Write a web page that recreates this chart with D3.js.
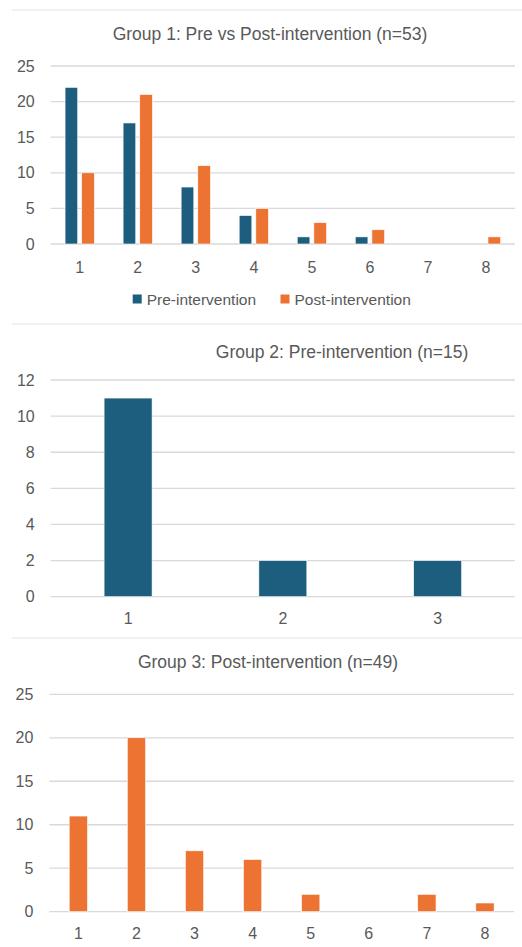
<!DOCTYPE html>
<html>
<head>
<meta charset="utf-8">
<script src="https://cdn.jsdelivr.net/npm/d3@7"></script>
<style>
  html, body { margin: 0; padding: 0; background: #fff; }
  svg { display: block; }
  text { font-family: "Liberation Sans", Arial, sans-serif; fill: #595959; }
</style>
</head>
<body>
<svg id="chart" width="522" height="947"></svg>
<script>
// Score categories (1–8) and counts per group
const categories8 = ["1", "2", "3", "4", "5", "6", "7", "8"];
const categories3 = ["1", "2", "3"];
const seriesNames = ["Pre-intervention", "Post-intervention"];

const group1Pre  = [22, 17, 8, 4, 1, 1, 0, 0];
const group1Post = [10, 21, 11, 5, 3, 2, 0, 1];
const group2Pre  = [11, 2, 2];
const group3Post = [11, 20, 7, 6, 2, 0, 2, 1];

const ticks1 = [0, 5, 10, 15, 20, 25];
const ticks2 = [0, 2, 4, 6, 8, 10, 12];
const ticks3 = [0, 5, 10, 15, 20, 25];

const titles = [
  "Group 1: Pre vs Post-intervention (n=53)",
  "Group 2: Pre-intervention (n=15)",
  "Group 3: Post-intervention (n=49)"
];

const colors = { pre: "#1d5d7e", post: "#ec7332" };
const gridColor = "#d9d9d9";

const svg = d3.select("#chart");

// Panel separators
[10, 324, 638].forEach(y => {
  svg.append("line")
    .attr("x1", 12).attr("x2", 522)
    .attr("y1", y).attr("y2", y)
    .attr("stroke", "#e3e3e3").attr("stroke-width", 1.2);
});

function drawAxes(g, x, y, ticks, left, right, labelY) {
  // horizontal gridlines
  g.selectAll("line.grid").data(ticks).join("line")
    .attr("class", "grid")
    .attr("x1", left).attr("x2", right)
    .attr("y1", d => y(d)).attr("y2", d => y(d))
    .attr("stroke", gridColor).attr("stroke-width", 1.3);
  // y tick labels
  g.selectAll("text.ytick").data(ticks).join("text")
    .attr("class", "ytick")
    .attr("x", left - 16)
    .attr("y", d => y(d) + 5.5)
    .attr("text-anchor", "end")
    .style("font-size", "16px")
    .text(d => d);
  // x category labels
  g.selectAll("text.xtick").data(x.domain()).join("text")
    .attr("class", "xtick")
    .attr("x", d => x(d) + x.bandwidth() / 2)
    .attr("y", labelY)
    .attr("text-anchor", "middle")
    .style("font-size", "16px")
    .text(d => d);
}

function title(text, cx, baseline) {
  svg.append("text")
    .attr("x", cx).attr("y", baseline)
    .attr("text-anchor", "middle")
    .style("font-size", "17.5px")
    .text(text);
}

// ---- Panel 1: grouped bars ----
{
  const g = svg.append("g");
  const left = 50.7, right = 515;
  const x = d3.scaleBand().domain(categories8).range([left, right]).padding(0);
  const y = d3.scaleLinear().domain([0, 25]).range([244, 66]);
  drawAxes(g, x, y, ticks1, left, right, 272.5);
  const groupW = x.bandwidth() * 0.505;
  const xs = d3.scaleBand().domain(seriesNames).range([0, groupW]).paddingInner(0.24);
  const rows = categories8.map((c, i) => ({ c, vals: [group1Pre[i], group1Post[i]] }));
  const grp = g.selectAll("g.cat").data(rows).join("g")
    .attr("transform", d => `translate(${x(d.c) + (x.bandwidth() - groupW) / 2},0)`);
  grp.selectAll("rect").data(d => d.vals.map((v, k) => ({ v, s: seriesNames[k] })))
    .join("rect")
    .attr("x", d => xs(d.s))
    .attr("width", xs.bandwidth())
    .attr("y", d => y(d.v))
    .attr("height", d => y(0) - y(d.v))
    .attr("fill", d => d.s === seriesNames[0] ? colors.pre : colors.post)
    .attr("stroke", "#fff").attr("stroke-width", 0.6);
  title(titles[0], 270, 40);

  // legend
  const legend = svg.append("g");
  const items = [
    { name: seriesNames[0], color: colors.pre, x: 132.7 },
    { name: seriesNames[1], color: colors.post, x: 280.5 }
  ];
  items.forEach(it => {
    legend.append("rect").attr("x", it.x).attr("y", 294.5).attr("width", 9).attr("height", 9)
      .attr("fill", it.color);
    legend.append("text").attr("x", it.x + 14).attr("y", 304.5)
      .style("font-size", "15.5px").text(it.name);
  });
}

// ---- Panel 2 ----
{
  const g = svg.append("g");
  const left = 50.7, right = 515;
  const x = d3.scaleBand().domain(categories3).range([left, right]).paddingInner(0.69).paddingOuter(0.345);
  const y = d3.scaleLinear().domain([0, 12]).range([596.7, 380]);
  drawAxes(g, x, y, ticks2, left, right, 624);
  g.selectAll("rect").data(group2Pre).join("rect")
    .attr("x", (d, i) => x(categories3[i]))
    .attr("width", x.bandwidth())
    .attr("y", d => y(d))
    .attr("height", d => y(0) - y(d))
    .attr("fill", colors.pre)
    .attr("stroke", "#fff").attr("stroke-width", 0.6);
  title(titles[1], 342, 358);
}

// ---- Panel 3 ----
{
  const g = svg.append("g");
  const left = 49.3, right = 514;
  const x = d3.scaleBand().domain(categories8).range([left, right]).paddingInner(0.685).paddingOuter(0.3425);
  const y = d3.scaleLinear().domain([0, 25]).range([911.7, 694.3]);
  drawAxes(g, x, y, ticks3, left, right, 939);
  g.selectAll("rect").data(group3Post).join("rect")
    .attr("x", (d, i) => x(categories8[i]))
    .attr("width", x.bandwidth())
    .attr("y", d => y(d))
    .attr("height", d => y(0) - y(d))
    .attr("fill", colors.post)
    .attr("stroke", "#fff").attr("stroke-width", 0.6);
  title(titles[2], 268, 668);
}
</script>
</body>
</html>
